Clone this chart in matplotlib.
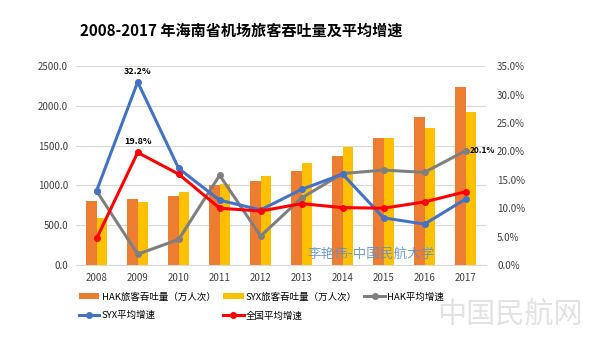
import numpy as np
import matplotlib.pyplot as plt

plt.rcParams['font.family'] = ['Noto Sans CJK SC', 'DejaVu Sans']

# ---- data ----
years = ['2008', '2009', '2010', '2011', '2012', '2013', '2014', '2015', '2016', '2017']
hak_tput = [810, 825, 866, 1004, 1062, 1179, 1375, 1600, 1866, 2241]
syx_tput = [591, 787, 912, 1021, 1121, 1279, 1487, 1600, 1721, 1929]
hak_growth = [13.0, 1.9, 4.5, 15.8, 5.1, 11.8, 16.1, 16.7, 16.3, 20.1]
syx_growth = [13.1, 32.2, 17.0, 11.4, 9.7, 13.3, 16.0, 8.3, 7.2, 11.6]
cn_growth = [4.7, 19.8, 16.0, 10.0, 9.5, 10.8, 10.1, 10.0, 11.1, 12.9]

c_hak = '#ED7D31'
c_syx = '#FFC000'
c_hakl = '#7F7F7F'
c_syxl = '#4472C4'
c_cn = '#FF0000'

fig = plt.figure(figsize=(6, 3.46), dpi=100)
ax = fig.add_axes([0.127, 0.234, 0.683, 0.575])
ax2 = ax.twinx()

x = np.arange(len(years))
w = 0.25
b1 = ax.bar(x - w / 2, hak_tput, w, color=c_hak, zorder=2)
b2 = ax.bar(x + w / 2, syx_tput, w, color=c_syx, zorder=2)

lw = 2.2
ms = 4
l1, = ax2.plot(x, hak_growth, color=c_hakl, lw=lw, marker='o', ms=ms)
l2, = ax2.plot(x, syx_growth, color=c_syxl, lw=lw, marker='o', ms=ms)
l3, = ax2.plot(x, cn_growth, color=c_cn, lw=lw, marker='o', ms=ms)

ax.set_xlim(-0.5, len(years) - 0.5)
ax.set_ylim(0, 2500)
ax.set_yticks(np.arange(0, 2501, 500))
ax.set_yticklabels([f'{v:.1f}' for v in np.arange(0, 2501, 500)])
ax2.set_ylim(0, 35)
ax2.set_yticks(np.arange(0, 36, 5))
ax2.set_yticklabels([f'{v:.1f}%' for v in np.arange(0, 36, 5)])
ax.set_xticks(x)
ax.set_xticklabels(years)

for a in (ax, ax2):
    a.tick_params(length=0, labelsize=7, colors='#404040', pad=6)
    for s in a.spines.values():
        s.set_visible(False)
ax2.tick_params(pad=8)
ax.spines['bottom'].set_visible(True)
ax.spines['bottom'].set_color('#D9D9D9')
ax.grid(axis='y', color='#D9D9D9', lw=0.8, zorder=0)
ax.set_axisbelow(True)

# data labels
ax2.annotate(f'{syx_growth[1]}%', (x[1], syx_growth[1]), xytext=(0, 6),
             textcoords='offset points', ha='center', fontsize=6.5, fontweight='bold')
ax2.annotate(f'{cn_growth[1]}%', (x[1], cn_growth[1]), xytext=(0, 6),
             textcoords='offset points', ha='center', fontsize=6.5, fontweight='bold')
ax2.annotate(f'{hak_growth[-1]}%', (x[-1], hak_growth[-1]), xytext=(3, 0),
             textcoords='offset points', ha='left', va='center', fontsize=6, fontweight='bold')

fig.text(0.4025, 0.912, '2008-2017 年海南省机场旅客吞吐量及平均增速', ha='center', va='center',
         fontsize=10.9, fontweight='bold')

# watermarks
fig.text(0.618, 0.268, '李艳伟-中国民航大学', ha='center', va='center', fontsize=9.8,
         color='#5B8FD0', alpha=0.85)
fig.text(0.85, 0.09, '中国民航网', ha='center', va='center', fontsize=21,
         color='#E2E2E2', fontweight='light')

handles = [b1, l2, b2, l3, l1]
labels = ['HAK旅客吞吐量（万人次）', 'SYX平均增速', 'SYX旅客吞吐量（万人次）',
          '全国平均增速', 'HAK平均增速']
fig.legend(handles, labels, loc='upper left', bbox_to_anchor=(0.117, 0.18), ncol=3,
           frameon=False, fontsize=6.8, handlelength=2.2, handleheight=0.6,
           columnspacing=0.75, handletextpad=0.25, labelspacing=1.0)

fig.savefig('out.png', dpi=100)
